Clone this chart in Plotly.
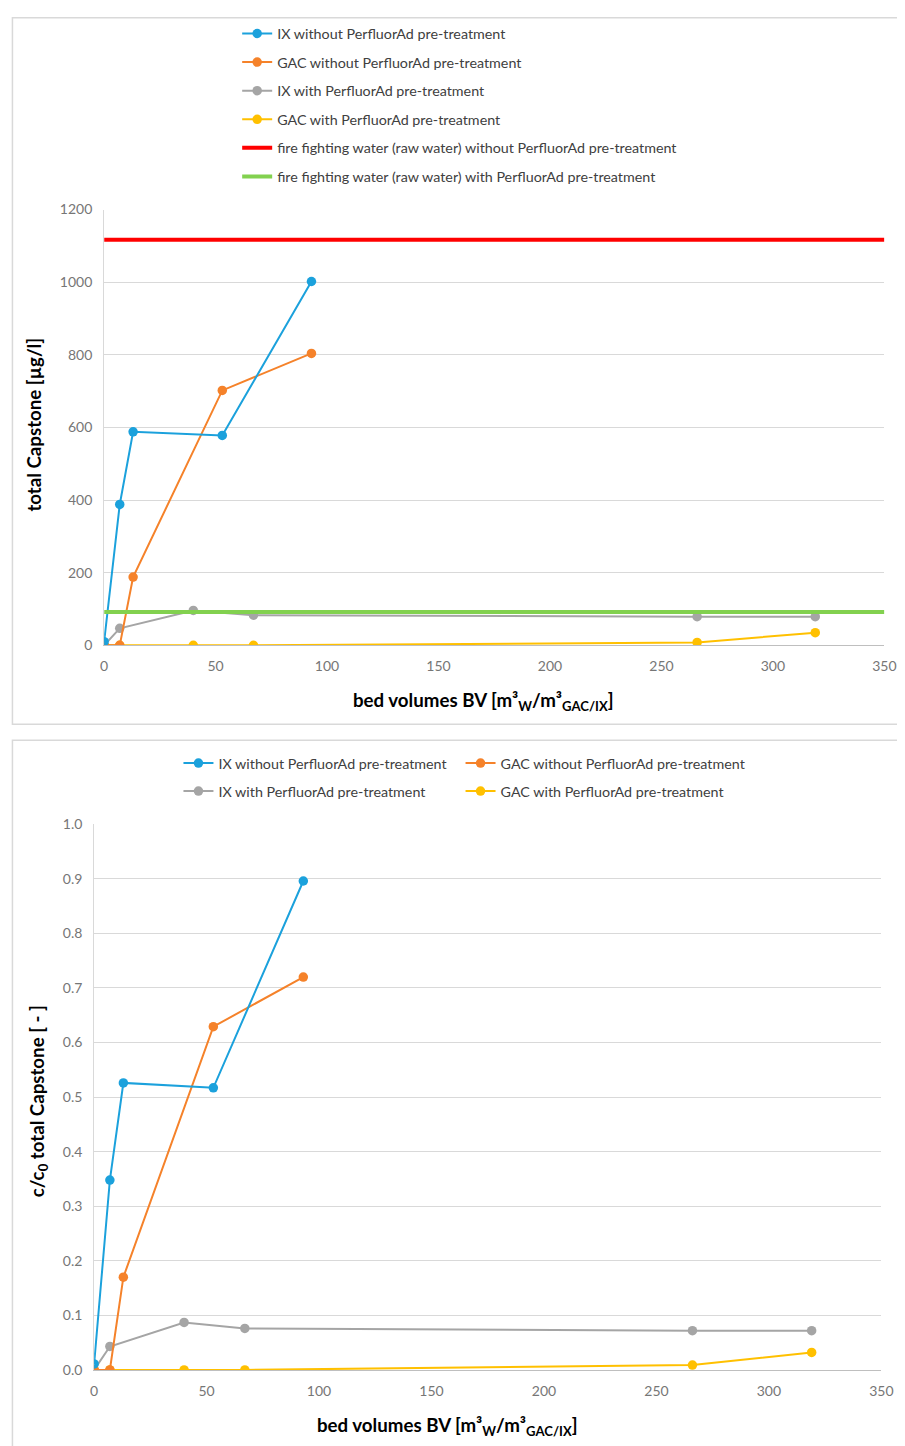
import plotly.graph_objects as go

# ---------------- data ----------------
series_names = [
    "IX without PerfluorAd pre-treatment",
    "GAC without PerfluorAd pre-treatment",
    "IX with PerfluorAd pre-treatment",
    "GAC with PerfluorAd pre-treatment",
]
raw_names = [
    "fire fighting water (raw water) without PerfluorAd pre-treatment",
    "fire fighting water (raw water) with PerfluorAd pre-treatment",
]

bv_ix_without = [0, 7, 13, 53, 93]
bv_gac_without = [0, 7, 13, 53, 93]
bv_ix_with = [0, 7, 40, 67, 266, 319]
bv_gac_with = [0, 7, 40, 67, 266, 319]

conc_ix_without = [10, 388, 588, 578, 1002]
conc_gac_without = [0, 0, 188, 702, 804]
conc_ix_with = [0, 47, 96, 83, 79, 79]
conc_gac_with = [0, 0, 0, 0, 8, 35]

raw_bv = [0, 350]
raw_without = [1117, 1117]
raw_with = [92, 92]

cc0_ix_without = [0.011, 0.348, 0.526, 0.517, 0.896]
cc0_gac_without = [0.0, 0.0, 0.170, 0.629, 0.720]
cc0_ix_with = [0.0, 0.043, 0.087, 0.076, 0.072, 0.072]
cc0_gac_with = [0.0, 0.0, 0.0, 0.0, 0.009, 0.032]

top_yticks = [0, 200, 400, 600, 800, 1000, 1200]
bot_yticks = [0.0, 0.1, 0.2, 0.3, 0.4, 0.5, 0.6, 0.7, 0.8, 0.9, 1.0]
xticks = [0, 50, 100, 150, 200, 250, 300, 350]

colors = ["#1BA1DC", "#F5822A", "#A5A5A5", "#FFC000"]
raw_colors = ["#FF0000", "#82D14F"]

# ---------------- layout helpers ----------------
W, H = 905, 1446
# observed mapping between figure pixels and the photographed picture
AX, BX = 0.982, 11.9
AY, BY = 0.9888, 15.3


def px(r):
    return max(0.0005, ((r - BX) / AX) / W)


def py(r):
    return min(0.9995, 1 - ((r - BY) / AY) / H)


FONT = "Lato"
TICK_COLOR = "#767676"
LEG_COLOR = "#404040"

fig = go.Figure()

# ---------------- top chart ----------------
top_x = [bv_ix_without, bv_gac_without, bv_ix_with, bv_gac_with]
top_y = [conc_ix_without, conc_gac_without, conc_ix_with, conc_gac_with]
order = [2, 3, 1, 0]
for i in order:
    fig.add_trace(go.Scatter(
        x=top_x[i], y=top_y[i], mode="lines+markers", name=series_names[i],
        line=dict(color=colors[i], width=2), marker=dict(size=9.5, color=colors[i]),
        xaxis="x", yaxis="y", legend="legend", legendrank=i + 1,
        legendgroup="t%d" % i,
    ))
for j in range(2):
    fig.add_trace(go.Scatter(
        x=raw_bv, y=[raw_without, raw_with][j], mode="lines", name=raw_names[j],
        line=dict(color=raw_colors[j], width=4),
        xaxis="x", yaxis="y", legend="legend", legendrank=5 + j,
        legendgroup="r%d" % j,
    ))

# ---------------- bottom chart ----------------
bot_y = [cc0_ix_without, cc0_gac_without, cc0_ix_with, cc0_gac_with]
bot_legends = ["legend2", "legend3", "legend4", "legend5"]
for i in order:
    fig.add_trace(go.Scatter(
        x=top_x[i], y=bot_y[i], mode="lines+markers", name=series_names[i],
        line=dict(color=colors[i], width=2), marker=dict(size=9.5, color=colors[i]),
        xaxis="x2", yaxis="y2", legend=bot_legends[i],
    ))

axis_common = dict(
    showgrid=False, zeroline=False, ticks="outside", ticklen=8,
    tickcolor="rgba(0,0,0,0)", tickfont=dict(family=FONT, size=14, color=TICK_COLOR),
)

leg_font = dict(family=FONT, size=14.3, color=LEG_COLOR)


def small_legend(xr, yr):
    return dict(x=px(xr), y=py(yr), xanchor="left", yanchor="middle",
                orientation="h", bgcolor="rgba(0,0,0,0)", font=leg_font)


fig.update_layout(
    width=W, height=H, margin=dict(l=0, r=0, t=0, b=0),
    paper_bgcolor="white", plot_bgcolor="white",
    font=dict(family=FONT, color=LEG_COLOR),
    xaxis=dict(domain=[px(104), px(884)], anchor="y", range=[0, 350],
               tickvals=xticks, showline=True, linecolor="#BFBFBF", linewidth=1,
               **axis_common),
    yaxis=dict(domain=[py(644), py(208)], anchor="x", range=[0, 1200],
               tickvals=top_yticks, showline=True, linecolor="#D9D9D9", linewidth=1,
               **{**axis_common, "showgrid": True}, gridcolor="#D9D9D9", gridwidth=1),
    xaxis2=dict(domain=[px(94), px(881)], anchor="y2", range=[0, 350],
                tickvals=xticks, showline=True, linecolor="#BFBFBF", linewidth=1,
                **axis_common),
    yaxis2=dict(domain=[py(1369), py(823)], anchor="x2", range=[0, 1.0],
                tickvals=bot_yticks, tickformat=".1f", showline=True,
                linecolor="#D9D9D9", linewidth=1,
                **{**axis_common, "showgrid": True}, gridcolor="#D9D9D9", gridwidth=1),
    legend=dict(x=px(237), y=py(15.8), xanchor="left", yanchor="top",
                orientation="v", tracegroupgap=7.0, bgcolor="rgba(0,0,0,0)",
                font=leg_font),
    legend2=small_legend(178.3, 762),
    legend3=small_legend(460.3, 762),
    legend4=small_legend(178.3, 790),
    legend5=small_legend(460.3, 790),
    showlegend=True,
)

# panel borders
fig.add_shape(type="rect", xref="paper", yref="paper",
              x0=px(7), x1=px(903), y0=py(723), y1=py(10),
              line=dict(color="#D9D9D9", width=1.5), layer="below")
fig.add_shape(type="rect", xref="paper", yref="paper",
              x0=px(8), x1=px(903), y0=py(1460), y1=py(739),
              line=dict(color="#D9D9D9", width=1.5), layer="below")

# axis titles
title_font = dict(family=FONT, size=18.7, color="#000000")
xtitle = "<b>bed volumes BV [m³<sub>W</sub>/m³<sub>GAC/IX</sub>]</b>"
fig.add_annotation(text=xtitle, xref="paper", yref="paper", x=px(483), y=py(700),
                   showarrow=False, font=title_font, xanchor="center", yanchor="middle")
fig.add_annotation(text=xtitle, xref="paper", yref="paper", x=px(447), y=py(1426),
                   showarrow=False, font=title_font, xanchor="center", yanchor="middle")
fig.add_annotation(text="<b>total Capstone [µg/l]</b>", xref="paper", yref="paper",
                   x=px(34), y=py(423), textangle=-90, showarrow=False, font=title_font,
                   xanchor="center", yanchor="middle")
fig.add_annotation(text="<b>c/c<sub>0</sub> total Capstone [ - ]</b>", xref="paper",
                   yref="paper", x=px(38), y=py(1100), textangle=-90, showarrow=False,
                   font=title_font, xanchor="center", yanchor="middle")

fig.write_html("out.html")
